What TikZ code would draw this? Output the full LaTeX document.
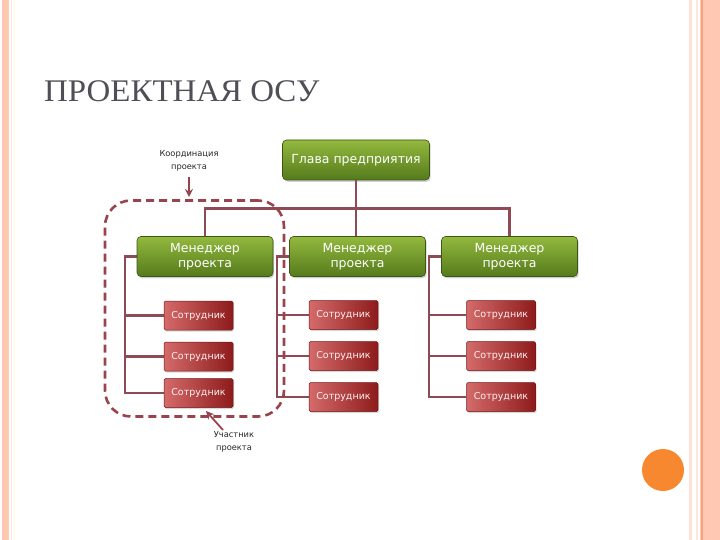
\documentclass[tikz,border=0pt]{standalone}
\usepackage{fontspec}
\setmainfont{Liberation Serif}
\newfontfamily\boxfont{DejaVu Sans}
\usetikzlibrary{shadows,arrows.meta}
\pgfdeclarelayer{bg}
\pgfsetlayers{bg,main}
\definecolor{peach}{HTML}{FFC8B2}
\definecolor{peachline}{HTML}{F4A383}
\definecolor{conn}{HTML}{8E4A55}
\definecolor{gtop}{HTML}{93B93E}
\definecolor{gbot}{HTML}{557A1C}
\definecolor{rtop}{HTML}{D46A6A}
\definecolor{rbot}{HTML}{8E1B1B}
\definecolor{titlegray}{HTML}{4F4F57}
\definecolor{dot}{HTML}{F7882F}
\tikzset{
  greenbox/.style={rounded corners=4pt, draw=gbot!70!black, line width=0.6pt,
    top color=gtop, bottom color=gbot, text=white,
    font=\boxfont\fontsize{12.5}{14.5}\selectfont, align=center,
    minimum height=40pt, inner sep=2pt,
    drop shadow={shadow xshift=1.2pt, shadow yshift=-1.8pt, opacity=0.35}},
  redbox/.style={rounded corners=1.5pt, draw=rbot!80!black, line width=0.5pt,
    left color=rtop, right color=rbot, text=white!95!red,
    font=\boxfont\fontsize{9.5}{11}\selectfont,
    minimum width=69pt, minimum height=29pt, inner sep=1pt,
    drop shadow={shadow xshift=1.2pt, shadow yshift=-1.5pt, opacity=0.3}},
  link/.style={conn, line width=2.4pt},
  dashbox/.style={draw=conn!90!red, line width=2.6pt, dash pattern=on 8pt off 5pt, rounded corners=26pt},
  note/.style={font=\boxfont\fontsize{8.3}{13}\selectfont, align=center, text=black!85},
  pointer/.style={conn!90!red, line width=1.8pt, -{Stealth[length=8pt,width=8pt]}}
}
\begin{document}
\begin{tikzpicture}[x=1pt,y=-1pt]
\useasboundingbox (0,0) rectangle (720,540);
\begin{pgfonlayer}{bg}
\fill[white] (0,0) rectangle (720,540);
% left strip
\fill[peach] (2,0) rectangle (9,540);
\fill[peach!45] (10.5,0) rectangle (11.5,540);
\fill[yellow!12] (13.5,0) rectangle (14.5,540);
% right strip
\fill[peach!55] (689,0) rectangle (692,540);
\fill[peach!45] (695.5,0) rectangle (697.5,540);
\fill[peach] (700,0) rectangle (720,540);
\fill[peachline] (701,0) rectangle (703,540);
\end{pgfonlayer}
% orange dot
\fill[dot] (663,470) circle (21);
% title
\node[anchor=base west, inner sep=0, text=titlegray, font=\fontsize{31.5}{34}\selectfont, xscale=1.045] (title) at (44,101.5) {ПРОЕКТНАЯ ОСУ};

% nodes
\node[greenbox, minimum width=147pt] (g) at (356,160) {Глава предприятия};
\node[greenbox, minimum width=136pt] (m1) at (205,256.5) {Менеджер\\проекта};
\node[greenbox, minimum width=136pt] (m2) at (357.5,256.5) {Менеджер\\проекта};
\node[greenbox, minimum width=136pt] (m3) at (509.5,256.5) {Менеджер\\проекта};

\node[redbox] (e11) at (198.5,315.5) {Сотрудник};
\node[redbox] (e12) at (198.5,356.5) {Сотрудник};
\node[redbox] (e13) at (198.5,393) {Сотрудник};
\node[redbox] (e21) at (343.5,315) {Сотрудник};
\node[redbox] (e22) at (343.5,356) {Сотрудник};
\node[redbox] (e23) at (343.5,397) {Сотрудник};
\node[redbox] (e31) at (501,315) {Сотрудник};
\node[redbox] (e32) at (501,356) {Сотрудник};
\node[redbox] (e33) at (501,397) {Сотрудник};

% connectors
\begin{pgfonlayer}{bg}
\coordinate (j) at (356,208.5);
\draw[link] (g.south) -- (g.south |- m2.north);
\draw[link] (m1.north) -- (m1.north |- j) -- (m3.north |- j) -- (m3.north);
\foreach \i in {1,2,3}{
  \draw[link] (m\i.west) -- ++(-12,0) coordinate (v\i) -- (v\i |- e\i3.west) -- (e\i3.west);
  \draw[link] (v\i |- e\i1.west) -- (e\i1.west);
  \draw[link] (v\i |- e\i2.west) -- (e\i2.west);
}
\end{pgfonlayer}

% dashed group
\node[dashbox, minimum width=179pt, minimum height=216pt, inner sep=0] (grp) at (194.5,308.5) {};

% labels
\node[note] (k) at (189,160.5) {Координация\\проекта};
\coordinate (kt) at (189,197);
\draw[pointer] (k.south) ++(0,3) -- (kt);
\node[note] (u) at (234,442) {Участник\\проекта};
\coordinate (ut) at (206,411);
\coordinate (us) at (223,430);
\draw[pointer] (us) -- (ut);
\end{tikzpicture}
\end{document}
